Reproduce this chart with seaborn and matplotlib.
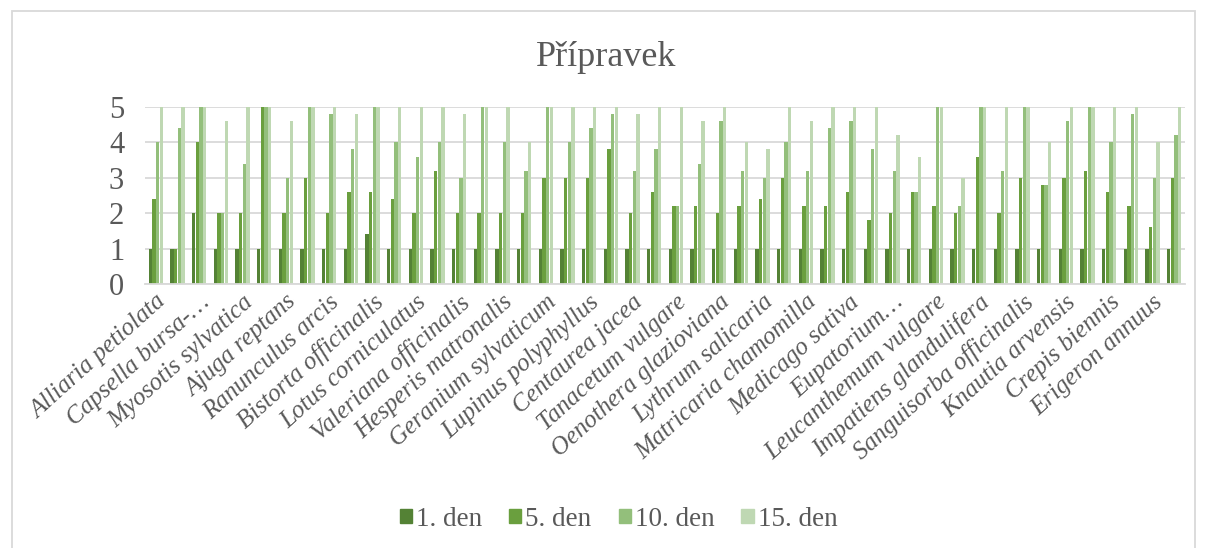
import numpy as np
import pandas as pd
import seaborn as sns
import matplotlib.pyplot as plt
from matplotlib.patches import Rectangle

# labels visible on the axis (every second category)
labels = ['Alliaria petiolata', 'Capsella bursa-…', 'Myosotis sylvatica', 'Ajuga reptans',
          'Ranunculus arcis', 'Bistorta officinalis', 'Lotus corniculatus', 'Valeriana officinalis',
          'Hesperis matronalis', 'Geranium sylvaticum', 'Lupinus polyphyllus', 'Centaurea jacea',
          'Tanacetum vulgare', 'Oenothera glazioviana', 'Lythrum salicaria', 'Matricaria chamomilla',
          'Medicago sativa', 'Eupatorium…', 'Leucanthemum vulgare', 'Impatiens glandulifera',
          'Sanguisorba officinalis', 'Knautia arvensis', 'Crepis biennis', 'Erigeron annuus']
series = ['1. den', '5. den', '10. den', '15. den']

den1 = [1, 1, 2, 1, 1, 1, 1, 1, 1, 1, 1.4, 1,
        1, 1, 1, 1, 1, 1, 1, 1, 1, 1, 1, 1,
        1, 1, 1, 1, 1, 1, 1, 1, 1, 1, 1, 1,
        1, 1, 1, 1, 1, 1, 1, 1, 1, 1, 1, 1]
den5 = [2.4, 1, 4, 2, 2, 5, 2, 3, 2, 2.6, 2.6, 2.4,
        2, 3.2, 2, 2, 2, 2, 3, 3, 3, 3.8, 2, 2.6,
        2.2, 2.2, 2, 2.2, 2.4, 3, 2.2, 2.2, 2.6, 1.8, 2, 2.6,
        2.2, 2, 3.6, 2, 3, 2.8, 3, 3.2, 2.6, 2.2, 1.6, 3]
den10 = [4, 4.4, 5, 2, 3.4, 5, 3, 5, 4.8, 3.8, 5, 4,
         3.6, 4, 3, 5, 4, 3.2, 5, 4, 4.4, 4.8, 3.2, 3.8,
         2.2, 3.4, 4.6, 3.2, 3, 4, 3.2, 4.4, 4.6, 3.8, 3.2, 2.6,
         5, 2.2, 5, 3.2, 5, 2.8, 4.6, 5, 4, 4.8, 3, 4.2]
den15 = [5, 5, 5, 4.6, 5, 5, 4.6, 5, 5, 4.8, 5, 5,
         5, 5, 4.8, 5, 5, 4, 5, 5, 5, 5, 4.8, 5,
         5, 4.6, 5, 4, 3.8, 5, 4.6, 5, 5, 5, 4.2, 3.6,
         5, 3, 5, 5, 5, 4, 5, 5, 5, 5, 4, 5]

colors = ['#548235', '#6A9F3E', '#93BF7B', '#BFD8B3']
grey = '#595959'

n = len(den1)
df = pd.DataFrame({'idx': np.arange(n), '1. den': den1, '5. den': den5,
                   '10. den': den10, '15. den': den15})
df = df.melt(id_vars='idx', var_name='serie', value_name='hodnota')

sns.set_style('white')
plt.rcParams['font.family'] = ['Liberation Serif', 'DejaVu Serif']

fig = plt.figure(figsize=(12.08, 5.48), dpi=100)
ax = fig.add_axes([145 / 1208, 1 - 284 / 548, 1040 / 1208, 177 / 548])

sns.barplot(data=df, x='idx', y='hodnota', hue='serie', hue_order=series,
            palette=colors, width=0.68, gap=0.12, ax=ax, legend=False,
            saturation=1, linewidth=0)

ax.set_xlim(-0.5, n - 0.5)
ax.set_ylim(0, 5)
ax.set_yticks(range(6))
ax.yaxis.grid(True, color='#D9D9D9', linewidth=1.3)
ax.set_axisbelow(True)
for s in ['top', 'right', 'left']:
    ax.spines[s].set_visible(False)
ax.spines['bottom'].set_color('#D9D9D9')
ax.spines['bottom'].set_linewidth(1.3)
ax.tick_params(axis='both', length=0, colors=grey)
ax.tick_params(axis='y', labelsize=22, pad=15)
ax.set_xticks(np.arange(0, n, 2))
ax.set_xticklabels(labels, rotation=42, ha='right', rotation_mode='anchor',
                   fontsize=18, style='italic', color=grey)
ax.tick_params(axis='x', pad=5)
ax.set_xlabel('')
ax.set_ylabel('')

fig.text(0.502, 1 - 57 / 548, 'Přípravek', ha='center', va='center', fontsize=26, color=grey)

handles = [Rectangle((0, 0), 1, 1, color=c) for c in colors]
fig.legend(handles, series, loc='center', bbox_to_anchor=(0.512, 1 - 519 / 548), ncol=4,
           frameon=False, fontsize=19.5, labelcolor=grey, handlelength=0.45, handleheight=0.45,
           handletextpad=0.15, columnspacing=1.0)

# chart border
fig.patches.append(Rectangle((12 / 1208, -0.1), 1183 / 1208, 1.1 - 11 / 548,
                             transform=fig.transFigure, fill=False, edgecolor='#D9D9D9',
                             linewidth=1.3))

plt.savefig('out.png', dpi=100)
